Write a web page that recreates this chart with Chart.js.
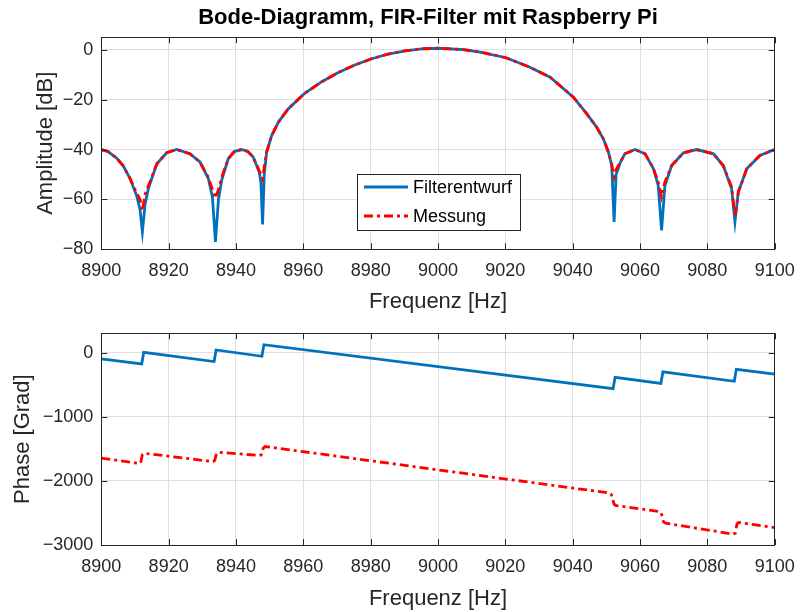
<!DOCTYPE html>
<html>
<head>
<meta charset="utf-8">
<script src="https://cdn.jsdelivr.net/npm/chart.js@4/dist/chart.umd.min.js"></script>
<style>
  html, body { margin: 0; padding: 0; background: #ffffff; }
  #wrap { position: relative; width: 802px; height: 612px; }
  canvas { position: absolute; left: 0; }
  #amp { top: 0; }
  #phase { top: 315px; }
</style>
</head>
<body>
<div id="wrap">
  <canvas id="amp" width="802" height="315"></canvas>
  <canvas id="phase" width="802" height="297"></canvas>
</div>
<script>
// ---- Data ----
const titleText = 'Bode-Diagramm, FIR-Filter mit Raspberry Pi';
const seriesNames = ['Filterentwurf', 'Messung'];
const freqLabel = 'Frequenz [Hz]';
const ampLabel = 'Amplitude [dB]';
const phaseLabel = 'Phase [Grad]';

const freqTicks = [8900, 8920, 8940, 8960, 8980, 9000, 9020, 9040, 9060, 9080, 9100];
const ampTicks = [-80, -60, -40, -20, 0];
const phaseTicks = [-3000, -2000, -1000, 0];

// Amplitude response (Hz, dB)
const freqAmp = [
  8900, 8902, 8904.6, 8906.5, 8908.5, 8910.5, 8911.5, 8912.2, 8913, 8914,
  8916.5, 8919.4, 8922.4, 8926.3, 8929.3, 8931.8, 8933, 8933.9, 8934.8, 8935.8,
  8937.7, 8939.5, 8941.7, 8943.5, 8945.1, 8946.9, 8947.4, 8947.9, 8948.4, 8949.1,
  8950.6, 8952.6, 8955.5, 8960.2, 8965.5, 8970.4, 8975.3, 8980.1, 8985.2, 8990.2,
  8995.2, 9000, 9007.5, 9012.5, 9020.2, 9027.3, 9033.3, 9040.2, 9044.2, 9047.1,
  9049.1, 9050.6, 9051.6, 9052.3, 9052.9, 9054.2, 9055.5, 9058.5, 9061.5, 9064,
  9065.4, 9066.4, 9067.4, 9069.4, 9072.9, 9076.8, 9081.8, 9084.7, 9087.2, 9088.2,
  9089.2, 9091.7, 9095.6, 9100
];
const ampDesign = [
  -40, -40.8, -43.5, -46.5, -51.5, -58.5, -64, -73, -62, -55.5,
  -45.7, -41.3, -40, -41.7, -45, -51.7, -59, -77, -60, -52,
  -43.7, -40.8, -40, -40.8, -43, -49, -53, -70, -50, -41,
  -34.4, -29, -23.7, -17.7, -12.8, -9.1, -6.1, -3.7, -1.7, -0.4,
  0.4, 0.6, 0.1, -0.9, -3.2, -7, -11, -19, -25.7, -31,
  -35.7, -41, -46.4, -69, -50, -45, -41.7, -40, -41.7, -47.7,
  -54.4, -72.4, -54.4, -46.4, -41.3, -40, -41.7, -46.4, -55.7, -69,
  -57, -47.7, -42.4, -40
];
const ampMeas = [
  -40, -40.8, -43.5, -46.5, -51.5, -57.5, -60, -64.5, -58, -54.5,
  -45.7, -41.3, -40, -41.7, -45, -51.2, -56, -59.5, -56, -51,
  -43.7, -40.8, -40, -40.8, -43, -48.5, -50, -51.7, -47, -41,
  -34.4, -29, -23.7, -17.7, -12.8, -9.1, -6.1, -3.7, -1.7, -0.4,
  0.4, 0.6, 0.1, -0.9, -3.2, -7, -11, -19, -25.7, -31,
  -35.7, -41, -46, -51, -48, -45, -41.7, -40, -41.7, -47.7,
  -53, -59, -53, -46.4, -41.3, -40, -41.7, -46.4, -55, -67,
  -57, -47.7, -42.4, -40
];

// Phase response (Hz, degrees)
const freqPhaseDesign = [
  8900, 8912.0, 8912.6, 8933.5, 8934.1, 8947.7, 8948.3,
  9052.0, 9052.6, 9066.2, 9066.8, 9088.0, 9088.6, 9100
];
const phaseDesign = [
  -98, -178, 2, -140, 40, -58, 122,
  -563, -387, -480, -300, -448, -262, -337
];
const freqPhaseMeas = [
  8900, 8911.3, 8911.7, 8912.2, 8912.7, 8933.2, 8933.7, 8934.2, 8934.7,
  8947.0, 8947.5, 8948.1, 8948.7, 9051.0, 9051.5, 9052.3, 9052.9,
  9065.8, 9066.3, 9067.0, 9067.6, 9087.6, 9088.3, 9088.8, 9089.3, 9100
];
const phaseMeas = [
  -1645, -1730, -1720, -1590, -1570, -1700, -1680, -1570, -1555,
  -1605, -1595, -1490, -1465, -2190, -2215, -2365, -2385,
  -2478, -2500, -2640, -2660, -2830, -2815, -2670, -2648, -2730
];

// ---- Styling ----
const FONT = '"Liberation Sans", Arial, Helvetica, sans-serif';
const AXIS_COLOR = '#262626';
const GRID_COLOR = '#dfdfdf';
const BLUE = '#0072BD';
const RED = '#FF0000';
const DASH_DOT = [9, 4, 3, 4];
const LINE_W = 2.8;

const toPoints = (xs, ys) => xs.map((x, i) => ({ x, y: ys[i] }));
const fmtTick = v => (v < 0 ? '\u2212' + Math.abs(v) : String(v));

// Box around the plot area with inward tick marks on all four sides
const boxAxes = {
  id: 'boxAxes',
  afterDatasetsDraw(chart) {
    const { ctx, chartArea: a, scales: { x, y } } = chart;
    const L = 6;
    ctx.save();
    ctx.strokeStyle = AXIS_COLOR;
    ctx.lineWidth = 1;
    ctx.beginPath();
    x.ticks.forEach(t => {
      const px = Math.round(x.getPixelForValue(t.value)) + 0.5;
      ctx.moveTo(px, a.bottom); ctx.lineTo(px, a.bottom - L);
      ctx.moveTo(px, a.top); ctx.lineTo(px, a.top + L);
    });
    y.ticks.forEach(t => {
      const py = Math.round(y.getPixelForValue(t.value)) + 0.5;
      ctx.moveTo(a.left, py); ctx.lineTo(a.left + L, py);
      ctx.moveTo(a.right, py); ctx.lineTo(a.right - L, py);
    });
    ctx.stroke();
    ctx.strokeRect(Math.round(a.left) + 0.5, Math.round(a.top) + 0.5,
                   Math.round(a.right - a.left), Math.round(a.bottom - a.top));
    ctx.restore();
  }
};

// Figure title above the upper plot
const figureTitle = {
  id: 'figureTitle',
  afterDraw(chart) {
    const ctx = chart.ctx;
    ctx.save();
    ctx.font = 'bold 22px ' + FONT;
    ctx.fillStyle = '#000000';
    ctx.textAlign = 'center';
    ctx.textBaseline = 'middle';
    ctx.fillText(titleText, 428, 18);
    ctx.restore();
  }
};

// Framed legend placed inside the amplitude plot
const insetLegend = {
  id: 'insetLegend',
  afterDraw(chart) {
    const ctx = chart.ctx;
    const bx = 357.5, by = 174.5, bw = 163, bh = 56;
    ctx.save();
    ctx.fillStyle = '#ffffff';
    ctx.fillRect(bx, by, bw, bh);
    ctx.strokeStyle = AXIS_COLOR;
    ctx.lineWidth = 1;
    ctx.strokeRect(bx, by, bw, bh);
    ctx.font = '18px ' + FONT;
    ctx.textBaseline = 'middle';
    ctx.fillStyle = '#000000';
    const rows = [187, 216];
    chart.data.datasets.forEach((ds, i) => {
      const yy = rows[i];
      ctx.beginPath();
      ctx.strokeStyle = ds.borderColor;
      ctx.lineWidth = ds.borderWidth;
      ctx.setLineDash(ds.borderDash || []);
      ctx.moveTo(364, yy);
      ctx.lineTo(408, yy);
      ctx.stroke();
      ctx.setLineDash([]);
      ctx.fillText(ds.label, 413, yy + 1);
    });
    ctx.restore();
  }
};

function axisOptions(min, max, tickValues, fixedSize, title, isX, titlePad) {
  return {
    type: 'linear',
    min, max,
    afterBuildTicks: s => { s.ticks = tickValues.map(v => ({ value: v })); },
    afterFit: s => {
      if (isX) { s.height = fixedSize; s.paddingLeft = 0; s.paddingRight = 0; }
      else { s.width = fixedSize; s.paddingTop = 0; s.paddingBottom = 0; }
    },
    grid: { color: GRID_COLOR, lineWidth: 1, drawTicks: false },
    border: { display: false },
    ticks: {
      font: { family: FONT, size: 18 },
      color: AXIS_COLOR,
      padding: isX ? 11 : 8,
      autoSkip: false,
      maxRotation: 0,
      callback: fmtTick
    },
    title: {
      display: true,
      text: title,
      font: { family: FONT, size: 22 },
      color: AXIS_COLOR,
      padding: titlePad
    }
  };
}

const common = {
  responsive: false,
  animation: false,
  devicePixelRatio: 1,
  events: [],
  elements: { point: { radius: 0 }, line: { tension: 0 } }
};

// Amplitude plot
new Chart(document.getElementById('amp'), {
  type: 'line',
  data: {
    datasets: [
      { label: seriesNames[0], data: toPoints(freqAmp, ampDesign), borderColor: BLUE,
        borderWidth: LINE_W, pointRadius: 0, order: 2 },
      { label: seriesNames[1], data: toPoints(freqAmp, ampMeas), borderColor: RED,
        borderWidth: LINE_W, borderDash: DASH_DOT, pointRadius: 0, order: 1 }
    ]
  },
  options: Object.assign({}, common, {
    layout: { padding: { left: 0, right: 27.3, top: 37.3, bottom: 0 } },
    plugins: { legend: { display: false }, tooltip: { enabled: false }, title: { display: false } },
    scales: {
      x: axisOptions(8900, 9100, freqTicks, 315 - 249.3, freqLabel, true, { top: 0, bottom: 0 }),
      y: axisOptions(-80, 5, ampTicks, 101.3, ampLabel, false, { top: 32.8, bottom: 0 })
    }
  }),
  plugins: [boxAxes, figureTitle, insetLegend]
});

// Phase plot
new Chart(document.getElementById('phase'), {
  type: 'line',
  data: {
    datasets: [
      { label: seriesNames[0], data: toPoints(freqPhaseDesign, phaseDesign), borderColor: BLUE,
        borderWidth: LINE_W, pointRadius: 0, order: 2 },
      { label: seriesNames[1], data: toPoints(freqPhaseMeas, phaseMeas), borderColor: RED,
        borderWidth: LINE_W, borderDash: DASH_DOT, pointRadius: 0, order: 1 }
    ]
  },
  options: Object.assign({}, common, {
    layout: { padding: { left: 0, right: 27.3, top: 18.3, bottom: 0 } },
    plugins: { legend: { display: false }, tooltip: { enabled: false }, title: { display: false } },
    scales: {
      x: axisOptions(8900, 9100, freqTicks, 297 - 230, freqLabel, true, { top: 0, bottom: 0 }),
      y: axisOptions(-3000, 300, phaseTicks, 101.3, phaseLabel, false, { top: 10, bottom: 0 })
    }
  }),
  plugins: [boxAxes]
});
</script>
</body>
</html>
